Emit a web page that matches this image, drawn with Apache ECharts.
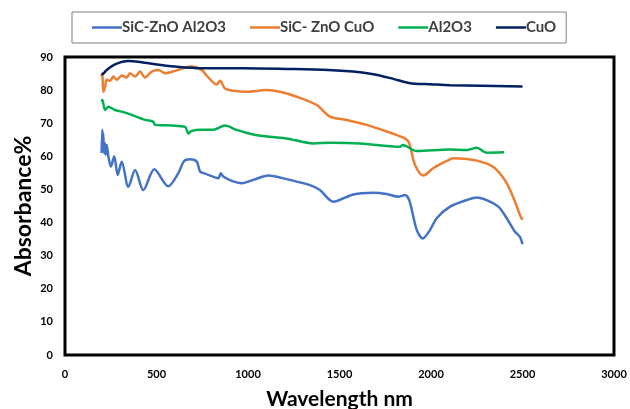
<!DOCTYPE html>
<html><head><meta charset="utf-8">
<script src="https://cdn.jsdelivr.net/npm/echarts@6/dist/echarts.min.js"></script>
<style>html,body{margin:0;padding:0;background:#fff}#c{width:630px;height:409px}</style>
</head><body><div id="c"></div>
<script>
const seriesNames = ['SiC-ZnO Al2O3', 'SiC- ZnO CuO', 'Al2O3', 'CuO'];
const xTicks = [0, 500, 1000, 1500, 2000, 2500, 3000];
const yTicks = [0, 10, 20, 30, 40, 50, 60, 70, 80, 90];

const blueX = [200,204,207,209,213,218,222,228,237,251,269,288,310,346,383,428,488,564,620,650,683,720,738,765,838,851,865,911,966,1029,1111,1175,1339,1393,1466,1575,1685,1758,1821,1858,1881,1922,1955,1995,2031,2104,2195,2250,2304,2368,2414,2459,2486,2500];
const blueY = [61,68,62,67,61,64,60.5,63.4,60,56.9,60,54.4,58.4,50.8,55.9,49.8,56.1,51,55,58.5,59.1,58.4,55.4,54.8,53.4,54.9,53.9,52.6,51.9,52.9,54.2,53.6,51.3,49.8,46.3,48.5,49.0,48.6,47.8,48.3,46.8,37.8,35.2,37.8,41.3,44.8,46.8,47.6,46.8,44.8,41.3,37.2,35.7,33.5];

const orangeX = [200,204,209,219,228,246,264,283,310,337,355,383,410,437,474,510,546,601,656,692,747,774,829,847,874,920,993,1102,1175,1266,1375,1448,1539,1649,1758,1858,1881,1913,1958,2012,2086,2122,2195,2250,2322,2368,2414,2459,2486,2500];
const orangeY = [84,85.1,79.5,81,83.1,82.8,84.1,83.1,84.4,83.8,85.1,84.1,85.6,83.8,85.6,86.1,85.1,85.8,86.8,87.1,86.1,84.4,81.7,82.8,80.5,79.8,79.5,80.0,79.5,78.0,75.5,72.0,71.0,69.5,67.5,65.4,63.9,57.4,54.2,56.4,58.6,59.4,59.2,58.7,57.4,55.4,51.9,46.3,42.3,40.8];

const greenX = [200,204,219,237,273,310,364,437,482,492,583,656,674,692,747,810,874,938,1029,1120,1211,1357,1448,1612,1831,1845,1922,2104,2195,2250,2304,2400];
const greenY = [76.5,77,74,75,74,73.5,72.5,71,70.5,69.5,69.3,68.9,66.9,67.7,68.0,68.0,69.3,68.0,66.6,65.9,65.4,63.9,64.1,63.9,62.9,63.4,61.6,62.1,61.9,62.6,61.1,61.2];

const navyX = [200,204,228,273,346,400,492,601,747,974,1211,1439,1575,1685,1794,1885,1995,2104,2500];
const navyY = [85,84.8,86.1,87.8,88.8,88.6,87.8,87.1,86.6,86.6,86.4,86.1,85.6,84.8,83.4,82.1,81.8,81.5,81.1];

const colors = ['#4472C4', '#ED7D31', '#00B050', '#002060'];
const zip = (xs, ys) => xs.map((x, i) => [x, ys[i]]);
const datasets = [zip(blueX, blueY), zip(orangeX, orangeY), zip(greenX, greenY), zip(navyX, navyY)];

const FONT = 'Lato, "Open Sans", sans-serif';
const chart = echarts.init(document.getElementById('c'), null, {renderer: 'canvas'});
chart.setOption({
  animation: false,
  color: colors,
  legend: {
    data: seriesNames.map(n => ({name: n, icon: 'rect'})),
    left: 72, top: 12,
    padding: [8, 10, 8, 20],
    itemWidth: 30, itemHeight: 2.5, itemGap: 24,
    borderColor: '#7f7f7f', borderWidth: 1,
    textStyle: {fontFamily: FONT, fontWeight: 'bold', fontSize: 15, color: '#404040', padding: [0,0,0,-5]}
  },
  grid: {left: 65, right: 16, top: 57, bottom: 54, show: true, borderColor: '#000', borderWidth: 3, backgroundColor: 'transparent', containLabel: false, outerBoundsMode: 'none'},
  xAxis: {
    type: 'value', min: xTicks[0], max: xTicks[xTicks.length-1], interval: 500,
    name: 'Wavelength nm', nameLocation: 'middle', nameGap: 34, nameMoveOverlap: false,
    nameTextStyle: {fontFamily: FONT, fontWeight: 'bold', fontSize: 21, color: '#000'},
    axisLine: {show: false}, axisTick: {show: false}, splitLine: {show: false},
    axisLabel: {fontFamily: FONT, fontWeight: 'bold', fontSize: 11, color: '#000', margin: 14, formatter: v => String(v)}
  },
  yAxis: {
    type: 'value', min: yTicks[0], max: yTicks[yTicks.length-1], interval: 10,
    name: 'Absorbance%', nameLocation: 'middle', nameGap: 30, nameMoveOverlap: false,
    nameTextStyle: {fontFamily: FONT, fontWeight: 'bold', fontSize: 23, color: '#000'},
    axisLine: {show: false}, axisTick: {show: false}, splitLine: {show: false},
    axisLabel: {fontFamily: FONT, fontWeight: 'bold', fontSize: 11, color: '#000', margin: 12, formatter: v => String(v)}
  },
  series: seriesNames.map((n, i) => ({
    name: n, type: 'line', data: datasets[i], showSymbol: false, symbol: 'none',
    smooth: 0.3, lineStyle: {width: 2.5, color: colors[i]}, z: 3
  }))
});
</script></body></html>
